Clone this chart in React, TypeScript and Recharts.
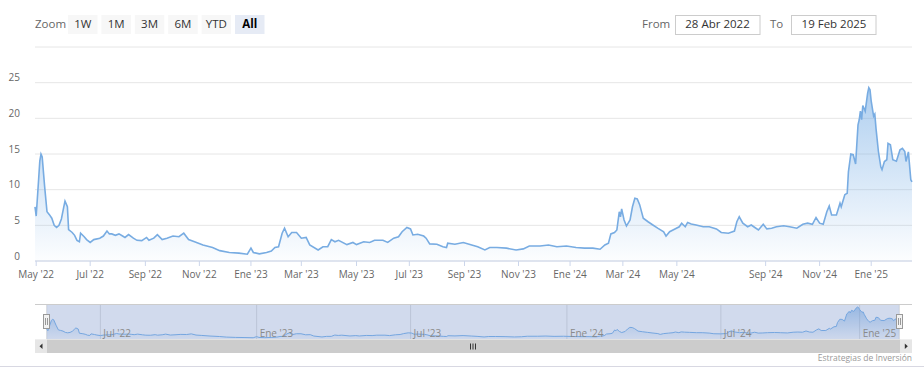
import { AreaChart, Area, XAxis, YAxis, CartesianGrid, ReferenceArea } from "recharts";

// [session, close] pairs, sessions counted from 28 Apr 2022 (ordinal axis)
const closes2022: [number, number][] = [
  [0, 7.6], [1, 6.3], [3, 11.4], [4, 14.0], [5, 15.0], [6, 14.6], [8, 10.5], [10, 6.9],
  [12, 6.5], [14, 6.0], [16, 5.0], [18, 4.7], [20, 5.0], [22, 5.9], [24, 7.6], [25, 8.4],
  [26, 8.0], [27, 7.6], [28, 4.4], [31, 4.0], [33, 3.6], [35, 2.9], [37, 2.7], [38, 3.9],
  [41, 3.4], [43, 3.0], [46, 2.6], [49, 3.0], [54, 3.2], [57, 3.5], [60, 4.2], [62, 3.8],
  [64, 3.8], [67, 3.6], [70, 3.8], [73, 3.5], [75, 3.3], [78, 3.7], [82, 3.2], [85, 2.9],
  [89, 2.85], [93, 3.3], [95, 2.9], [99, 3.2], [102, 3.7], [106, 3.0], [110, 3.2], [115, 3.5],
  [120, 3.4], [124, 3.9], [128, 3.0], [133, 2.7], [140, 2.25], [148, 1.9], [154, 1.45],
  [162, 1.2], [170, 1.1], [177, 0.95],
];

const closes2023: [number, number][] = [
  [180, 1.8], [182, 1.2], [187, 1.0], [193, 1.2], [197, 1.4], [200, 1.9], [203, 2.0], [206, 3.9],
  [208, 4.6], [211, 3.4], [214, 4.0], [218, 4.0], [222, 3.2], [226, 3.3], [229, 2.25], [236, 1.55],
  [240, 2.0], [244, 2.0], [247, 3.0], [250, 2.7], [253, 2.9], [260, 2.3], [265, 2.6], [268, 2.3],
  [274, 2.7], [279, 2.6], [283, 2.9], [290, 2.9], [294, 2.6], [299, 3.2], [303, 3.4], [306, 4.1],
  [310, 4.7], [313, 4.5], [315, 3.65], [319, 3.75], [324, 3.5], [326, 3.2], [329, 2.4], [335, 2.35],
  [340, 2.0], [343, 1.9], [344, 2.5], [350, 2.35], [357, 2.6], [364, 2.25], [369, 2.0], [375, 1.55],
  [379, 1.9], [385, 1.9], [393, 1.8], [401, 1.55], [407, 1.7], [412, 2.1], [421, 2.1], [428, 2.25],
  [435, 2.0], [443, 2.1],
];

const closes2024: [number, number][] = [
  [451, 1.9], [458, 1.8], [465, 1.8], [471, 1.65], [475, 2.25], [478, 2.5], [480, 3.8], [483, 4.0],
  [485, 4.35], [487, 6.9], [488, 6.2], [489, 7.3], [491, 5.75], [493, 4.9], [496, 5.75], [498, 7.6],
  [500, 8.8], [502, 8.7], [504, 7.9], [507, 6.0], [511, 5.5], [515, 5.05], [519, 4.6], [524, 4.1],
  [526, 3.5], [529, 4.1], [533, 4.45], [537, 4.8], [539, 5.3], [542, 4.8], [544, 5.4], [547, 5.2],
  [551, 5.05], [557, 4.8], [562, 4.8], [568, 4.5], [572, 4.0], [578, 3.9], [583, 4.2], [585, 5.5],
  [587, 6.2], [590, 5.3], [594, 4.8], [597, 5.05], [600, 4.7], [603, 4.35], [607, 5.15], [610, 4.5],
  [614, 4.6], [618, 4.8], [624, 4.95], [629, 4.8], [635, 4.6], [640, 5.15], [644, 5.3], [648, 5.15],
  [651, 6.1], [654, 5.3], [657, 5.15], [660, 6.9], [662, 7.7], [664, 6.45], [668, 6.45], [671, 8.1],
  [672, 7.6], [675, 9.3], [677, 9.5], [678, 12.5], [680, 15.0], [682, 14.9], [684, 13.6],
];

const closes2025: [number, number][] = [
  [686, 19.1], [687, 19.8], [688, 21.0], [689, 19.8], [690, 21.8], [692, 21.0], [694, 23.5],
  [695, 24.3], [696, 24.0], [697, 22.4], [699, 20.3], [700, 20.6], [701, 18.6], [703, 15.35],
  [705, 13.2], [706, 12.8], [708, 13.95], [710, 14.2], [711, 16.5], [713, 16.3], [715, 14.2],
  [718, 14.0], [721, 15.6], [723, 15.8], [725, 15.35], [726, 13.95], [728, 15.3], [730, 11.4],
  [731, 11.1],
];

const mainTickSessions = [1, 46, 92, 137, 180, 222, 268, 312, 358, 403, 446, 490, 535, 609, 654, 697];
const mainTickLabels = [
  "May '22", "Jul '22", "Sep '22", "Nov '22", "Ene '23", "Mar '23", "May '23", "Jul '23",
  "Sep '23", "Nov '23", "Ene '24", "Mar '24", "May '24", "Sep '24", "Nov '24", "Ene '25",
];
const navTickSessions = [46, 180, 312, 446, 578, 697];
const navTickLabels = ["Jul '22", "Ene '23", "Jul '23", "Ene '24", "Jul '24", "Ene '25"];
const yTicks = [0, 5, 10, 15, 20, 25, 30];

const zoomButtons = ["1W", "1M", "3M", "6M", "YTD", "All"];
const fromDate = "28 Abr 2022";
const toDate = "19 Feb 2025";

const closes = [...closes2022, ...closes2023, ...closes2024, ...closes2025].map(([s, v]) => ({ s, v }));
const lastSession = 731;

const YTick = ({ y, payload }: any) => {
  if (payload.value === 30) return <g />;
  return (
    <text x={20} y={y - 1.5} textAnchor="end" fill="#666" fontSize={10}>
      {payload.value}
    </text>
  );
};

// navigator labels sit inside the navigator band, right of their grid line
const NavTick = ({ x, payload }: any) => {
  const i = navTickSessions.indexOf(payload.value);
  return (
    <text x={x + 3} y={33} fill="#8a8a8a" fontSize={10}>
      {navTickLabels[i]}
    </text>
  );
};

export default function App() {
  return (
    <div
      style={{
        position: "absolute",
        left: 0,
        top: 0,
        width: 924,
        height: 385,
        background: "#fff",
        fontFamily: "'Open Sans', sans-serif",
      }}
    >
      <div style={{ position: "absolute", left: 0, top: 0 }}>
        <AreaChart width={924} height={290} data={closes} margin={{ top: 47, right: 12, left: 0, bottom: 0 }}>
          <defs>
            <linearGradient id="mainFill" x1="0" y1="0" x2="0" y2="1">
              <stop offset="0%" stopColor="#6aa6e3" stopOpacity={0.9} />
              <stop offset="100%" stopColor="#6aa6e3" stopOpacity={0.03} />
            </linearGradient>
          </defs>
          <CartesianGrid vertical={false} stroke="#e6e6e6" />
          <XAxis
            type="number"
            dataKey="s"
            domain={[0, lastSession]}
            ticks={mainTickSessions}
            interval={0}
            tickFormatter={(v: number) => mainTickLabels[mainTickSessions.indexOf(v)]}
            height={29}
            stroke="#ccd6eb"
            tickSize={5}
            tickMargin={5}
            tick={{ fill: "#666", fontSize: 10 }}
          />
          <YAxis domain={[0, 30]} ticks={yTicks} interval={0} width={35} axisLine={false} tickLine={false} tick={<YTick />} />
          <Area
            type="linear"
            dataKey="v"
            stroke="#78ace2"
            strokeWidth={1.6}
            fill="url(#mainFill)"
            dot={false}
            activeDot={false}
            isAnimationActive={false}
          />
        </AreaChart>
      </div>

      <div style={{ position: "absolute", left: 0, top: 304 }}>
        <AreaChart width={924} height={40} data={closes} margin={{ top: 0, right: 24.7, left: 46.7, bottom: 0 }}>
          <defs>
            <linearGradient id="navFill" x1="0" y1="0" x2="0" y2="1">
              <stop offset="0%" stopColor="#6aa6e3" stopOpacity={0.9} />
              <stop offset="100%" stopColor="#6aa6e3" stopOpacity={0.05} />
            </linearGradient>
          </defs>
          <CartesianGrid horizontal={false} stroke="#e0e0e0" />
          <XAxis
            type="number"
            dataKey="s"
            domain={[0, lastSession]}
            ticks={navTickSessions}
            interval={0}
            height={5}
            axisLine={false}
            tickLine={false}
            tick={<NavTick />}
          />
          <YAxis hide domain={[0, 26.6]} />
          <Area
            type="linear"
            dataKey="v"
            stroke="#7cb5ec"
            strokeWidth={1}
            fill="url(#navFill)"
            dot={false}
            activeDot={false}
            isAnimationActive={false}
          />
          <ReferenceArea x1={0} x2={lastSession} fill="rgb(102,133,194)" fillOpacity={0.3} stroke="none" />
        </AreaChart>
      </div>

      <svg width={924} height={385} style={{ position: "absolute", left: 0, top: 0, pointerEvents: "none" }}>
        {/* range selector */}
        <text x={35} y={28.3} fontSize={11.5} fill="#666">Zoom</text>
        {zoomButtons.map((b, i) => {
          const x = 68 + i * 33.4;
          const sel = b === "All";
          return (
            <g key={b}>
              <rect x={x} y={15} width={29.5} height={19} fill={sel ? "#e6ebf5" : "#f7f7f7"} />
              <text
                x={x + 14.75}
                y={28.3}
                textAnchor="middle"
                fontSize={11.5}
                fill={sel ? "#000" : "#333"}
                fontWeight={sel ? 700 : 400}
              >
                {b}
              </text>
            </g>
          );
        })}
        <text x={642} y={28.3} fontSize={11.5} fill="#666">From</text>
        <rect x={675.5} y={15.5} width={84.5} height={19} fill="#fff" stroke="#cccccc" />
        <text x={717.5} y={28.3} textAnchor="middle" fontSize={11.5} fill="#333">{fromDate}</text>
        <text x={770} y={28.3} fontSize={11.5} fill="#666">To</text>
        <rect x={791.5} y={15.5} width={84.5} height={19} fill="#fff" stroke="#cccccc" />
        <text x={834} y={28.3} textAnchor="middle" fontSize={11.5} fill="#333">{toDate}</text>

        {/* navigator outline and handles */}
        <line x1={35} x2={912} y1={304.5} y2={304.5} stroke="#cccccc" />
        {[43.5, 896.5].map((hx) => (
          <g key={hx}>
            <rect x={hx} y={314.5} width={6} height={14} fill="#f2f2f2" stroke="#999" />
            <line x1={hx + 2} x2={hx + 2} y1={318} y2={325} stroke="#999" />
            <line x1={hx + 4} x2={hx + 4} y1={318} y2={325} stroke="#999" />
          </g>
        ))}

        {/* scrollbar */}
        <rect x={35} y={339.5} width={877} height={13.5} fill="#f2f2f2" />
        <rect x={46.7} y={339.5} width={853.6} height={13.5} fill="#cccccc" />
        <rect x={35} y={339.5} width={11.7} height={13.5} fill="#e6e6e6" />
        <rect x={900.3} y={339.5} width={11.7} height={13.5} fill="#e6e6e6" />
        <path d="M 42.5 343.5 L 39.5 346.3 L 42.5 349 Z" fill="#333" />
        <path d="M 904.8 343.5 L 907.8 346.3 L 904.8 349 Z" fill="#333" />
        {[470.5, 473, 475.5].map((rx) => (
          <line key={rx} x1={rx} x2={rx} y1={343.5} y2={349.5} stroke="#333" />
        ))}

        <text x={912} y={361} textAnchor="end" fontSize={8.5} fill="#999">Estrategias de Inversión</text>
        <line x1={0} x2={924} y1={366.5} y2={366.5} stroke="#d8d8e2" />
      </svg>
    </div>
  );
}
